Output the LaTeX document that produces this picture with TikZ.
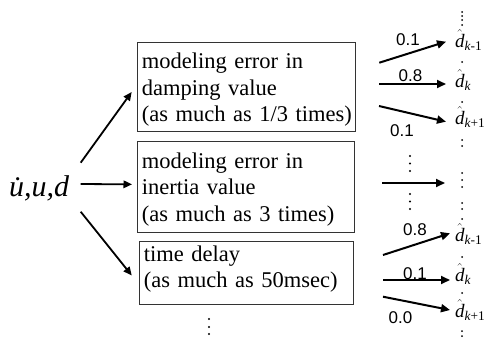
\documentclass[tikz,border=0pt]{standalone}
\usepackage{fontspec}
\usepackage{amsmath}
\setmainfont{Liberation Serif}
\newfontfamily\labelsans{Liberation Sans}
\usetikzlibrary{arrows.meta}

% vertical struts that fix the first baseline and the bottom margin of a box
\newcommand{\topgap}[1]{\rule{0pt}{#1}}
\newcommand{\botgap}[1]{\rule[-#1]{0pt}{#1}}

\begin{document}
\begin{tikzpicture}[x=1pt,y=-1pt,
  errbox/.style={draw=black!80, line width=0.8pt, anchor=north west,
    inner xsep=4.5pt, inner ysep=0pt, text width=#1, align=left,
    font=\fontsize{22.5}{26.5}\selectfont},
  inarrow/.style={line width=1.8pt, -{Triangle[length=8.5pt,width=7.5pt]}},
  outarrow/.style={line width=2pt, -{Triangle[length=9pt,width=8pt]}},
  prob/.style={font=\labelsans\fontsize{17}{19}\selectfont, inner sep=0pt},
  dhat/.style={anchor=base west, inner sep=0pt, font=\fontsize{19}{21}\selectfont},
  vdot/.style={fill=black}
]
\useasboundingbox (0,0) rectangle (488,343);

% input signals
\node[anchor=base west, inner sep=0pt, font=\fontsize{30}{32}\selectfont\itshape]
  (sig) at (9,196.5) {\.{u},u,d};

% error sources
\node[errbox=209pt] (box1) at (137,42)
  {\noindent\topgap{26.5pt}modeling error in\\damping value\\\mbox{(as much as 1/3 times)}\botgap{9.4pt}};
\node[errbox=208pt] (box2) at (137,141)
  {\noindent\topgap{27pt}modeling error in\\inertia value\\(as much as 3 times)\botgap{11pt}};
\node[errbox=205pt] (box3) at (139,241)
  {\noindent\topgap{20pt}time delay\\(as much as 50msec)\botgap{16.5pt}};

% arrows from the signals to the error sources
\coordinate (s1) at (80.7,162.7);
\coordinate (s2) at (80.7,184);
\coordinate (s3) at (80.7,211.7);
\draw[inarrow, shorten >=9.1pt] (s1) -- ([yshift=2.2pt]box1.west);
\draw[inarrow, shorten >=5pt] (s2) -- ([yshift=2.5pt]box2.west);
\draw[inarrow, shorten >=11.6pt] (s3) -- ([yshift=-11.6pt]box3.west);

% more sources
\fill[vdot] (209,319) circle (1.1pt) (209,327) circle (1.1pt) (209,334) circle (1.1pt);

% estimated disturbances, first group
\node[dhat] (dA1) at (455,47)  {$\hat{\textit{d}}_{\textit{k}\text{-1}}$};
\node[dhat] (dA2) at (455,87)  {$\hat{\textit{d}}_{\textit{k}}$};
\node[dhat] (dA3) at (455,124) {$\hat{\textit{d}}_{\textit{k}\text{+1}}$};
\coordinate (pA1) at (379.3,62.7);
\coordinate (pA2) at (379,84);
\coordinate (pA3) at (379,106);
\draw[outarrow] (pA1) -- ([xshift=-9pt,yshift=5.3pt]dA1.base west);
\draw[outarrow] (pA2) -- ([xshift=-9pt,yshift=3pt]dA2.base west);
\draw[outarrow] (pA3) -- ([xshift=-9pt,yshift=2.3pt]dA3.base west);
\node[prob] (qA1) at (408,40) {0.1};
\node[prob] (qA2) at (410.5,75.5) {0.8};
\node[prob] (qA3) at (402,131) {0.1};

% middle group
\coordinate (pB) at (382,183);
\coordinate (eB) at (445,183);
\draw[outarrow] (pB) -- (eB);
\foreach \y in {156,163.5,171,194,201.5,209} \fill[vdot] (410,\y) circle (1.1pt);

% estimated disturbances, last group
\node[dhat] (dC1) at (455,241) {$\hat{\textit{d}}_{\textit{k}\text{-1}}$};
\node[dhat] (dC2) at (455,281) {$\hat{\textit{d}}_{\textit{k}}$};
\node[dhat] (dC3) at (455,317) {$\hat{\textit{d}}_{\textit{k}\text{+1}}$};
\coordinate (pC1) at (383,255);
\coordinate (pC2) at (383,280);
\coordinate (pC3) at (383,296.7);
\draw[outarrow] (pC1) -- ([xshift=-5pt,yshift=7.7pt]dC1.base west);
\draw[outarrow] (pC2) -- ([xshift=-5pt,yshift=1pt]dC2.base west);
\draw[outarrow] (pC3) -- ([xshift=-5pt,yshift=7pt]dC3.base west);
\node[prob] (qC1) at (415,230) {0.8};
\node[prob] (qC2) at (415,273.5) {0.1};
\node[prob] (qC3) at (400.5,318) {0.0};

% dots of the right-hand column
\foreach \y in {12,16,20,25,62,102,140,146,173,180,187,203,209,219,257,293,331,336}
  \fill[vdot] (462,\y) circle (1pt);
\end{tikzpicture}
\end{document}
